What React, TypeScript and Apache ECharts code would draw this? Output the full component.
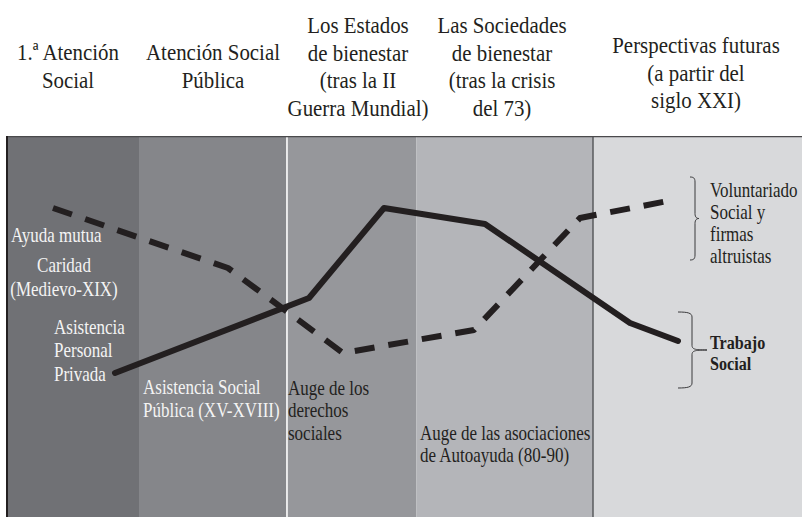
import React, { useEffect, useRef } from "react";
import * as echarts from "echarts";

// Era boundaries along the horizontal timeline (axis units)
const eraBounds = [0, 132, 279.5, 409.5, 586, 795];
const eraHeaders = [
  "1.ª Atención\nSocial",
  "Atención Social\nPública",
  "Los Estados\nde bienestar\n(tras la II\nGuerra Mundial)",
  "Las Sociedades\nde bienestar\n(tras la crisis\ndel 73)",
  "Perspectivas futuras\n(a partir del\nsiglo XXI)",
];

// Solid line: Trabajo Social
const solidX = [108, 302, 377, 478, 623, 671];
const solidY = [144, 219, 309, 293, 194, 176];

// Dashed line: Ayuda mutua / Voluntariado
const dashedX = [46, 221, 336, 467, 573, 666];
const dashedY = [309, 249, 164, 187, 299, 317];

const separators = [279.5, 586];

const SERIF = "Liberation Serif";
const bandColors = ["#707175", "#85868a", "#96979b", "#b4b5b9", "#d8d9db"];
const DARK = "#231f20";
const LIGHT = "#f4f4f4";

function bracePath(w: number, h: number, spine: number, hook: number) {
  const m = h / 2;
  return (
    `M0 0 C${spine * 0.7} 0 ${spine} 1 ${spine} ${hook} ` +
    `L${spine} ${m - hook} C${spine} ${m - 1} ${spine + 2} ${m} ${w} ${m} ` +
    `C${spine + 2} ${m} ${spine} ${m + 1} ${spine} ${m + hook} ` +
    `L${spine} ${h - hook} C${spine} ${h - 1} ${spine * 0.7} ${h} 0 ${h}`
  );
}

let registered = false;
function registerShapes() {
  if (registered) return;
  registered = true;
  echarts.graphic.registerShape(
    "braceA",
    echarts.graphic.extendPath(bracePath(9, 83, 5, 5), {}) as any
  );
  echarts.graphic.registerShape(
    "braceB",
    echarts.graphic.extendPath(bracePath(29, 76, 14, 5), {}) as any
  );
}

function txt(
  text: string,
  x: number,
  firstCenter: number,
  opts: {
    size?: number;
    lh?: number;
    align?: string;
    color?: string;
    sx?: number;
    weight?: string;
  } = {}
) {
  const size = opts.size ?? 20;
  const lh = opts.lh ?? 23;
  return {
    type: "text",
    x,
    y: firstCenter - lh / 2,
    z: 100,
    scaleX: opts.sx ?? 0.85,
    silent: true,
    style: {
      text,
      fontFamily: SERIF,
      fontSize: size,
      fontWeight: opts.weight ?? "normal",
      fill: opts.color ?? DARK,
      align: opts.align ?? "left",
      verticalAlign: "top",
      textAlign: opts.align ?? "left",
      textVerticalAlign: "top",
      lineHeight: lh,
    },
  };
}

export default function App() {
  const ref = useRef<HTMLDivElement>(null);

  useEffect(() => {
    if (!ref.current) return;
    registerShapes();
    const chart = echarts.init(ref.current, null, { renderer: "svg" });

    const headerCenters = [68, 213, 358, 502, 696];
    const headerFirst = [52, 52, 25, 25, 45];

    const graphic: any[] = [
      { type: "rect", z: 100, silent: true, shape: { x: 7, y: 136, width: 795, height: 1.2 }, style: { fill: "#4a4a4c" } },
      { type: "rect", z: 100, silent: true, shape: { x: 6, y: 136, width: 2, height: 381 }, style: { fill: DARK } },
    ];
    eraHeaders.forEach((h, i) => {
      graphic.push(
        txt(h, headerCenters[i], headerFirst[i], { size: 24, lh: 27.7, align: "center", sx: 0.87 })
      );
    });
    graphic.push(
      txt("Ayuda mutua", 11, 235, { color: LIGHT }),
      txt("Caridad\n(Medievo-XIX)", 64, 265, { color: LIGHT, align: "center", lh: 24.5 }),
      txt("Asistencia\nPersonal\nPrivada", 54, 327, { color: LIGHT, lh: 23.5 }),
      txt("Asistencia Social\nPública (XV-XVIII)", 143, 387, { color: LIGHT, lh: 23 }),
      txt("Auge de los\nderechos\nsociales", 288, 388, { lh: 22.5 }),
      txt("Auge de las asociaciones\nde Autoayuda (80-90)", 420, 433, { lh: 22.5 }),
      txt("Voluntariado\nSocial y\nfirmas\naltruistas", 710, 190, { lh: 22 }),
      txt("Trabajo\nSocial", 710, 343, { lh: 21, weight: "bold", size: 19 }),
      {
        type: "braceA",
        x: 690,
        y: 177,
        z: 100,
        silent: true,
        style: { stroke: "#3a3a3c", lineWidth: 1, fill: "none" },
      },
      {
        type: "braceB",
        x: 678,
        y: 312,
        z: 100,
        silent: true,
        style: { stroke: "#3a3a3c", lineWidth: 1, fill: "none" },
      }
    );

    const bands = bandColors.map((c, i) => [
      { xAxis: eraBounds[i], itemStyle: { color: c } },
      { xAxis: eraBounds[i + 1] },
    ]);

    chart.setOption({
      animation: false,
      grid: { left: 7, right: 0, top: 137, bottom: 0 },
      xAxis: { type: "value", min: 0, max: 795, show: false },
      yAxis: { type: "value", min: 0, max: 380, show: false },
      series: [
        {
          type: "line",
          name: "eras",
          data: [],
          z: 1,
          silent: true,
          markArea: { silent: true, data: bands, itemStyle: { opacity: 1 } },
          markLine: {
            silent: true,
            symbol: "none",
            label: { show: false },
            data: separators.map((s, i) => ({
              xAxis: s,
              lineStyle: { color: i === 0 ? "#ffffff" : "#5a5b5e", width: 1.5, type: "solid" },
            })),
          },
        },
        {
          type: "line",
          name: "Ayuda mutua",
          data: dashedX.map((x, i) => [x, dashedY[i]]),
          symbol: "none",
          smooth: false,
          z: 5,
          lineStyle: { color: DARK, width: 6, type: [20, 14], cap: "butt", join: "round" },
        },
        {
          type: "line",
          name: "Trabajo Social",
          data: solidX.map((x, i) => [x, solidY[i]]),
          symbol: "none",
          smooth: false,
          z: 6,
          lineStyle: { color: DARK, width: 6, cap: "round", join: "round" },
        },
      ],
      graphic,
    });

    return () => chart.dispose();
  }, []);

  return (
    <div
      ref={ref}
      style={{ position: "absolute", left: 0, top: 0, width: 802, height: 517, background: "#fff" }}
    />
  );
}
